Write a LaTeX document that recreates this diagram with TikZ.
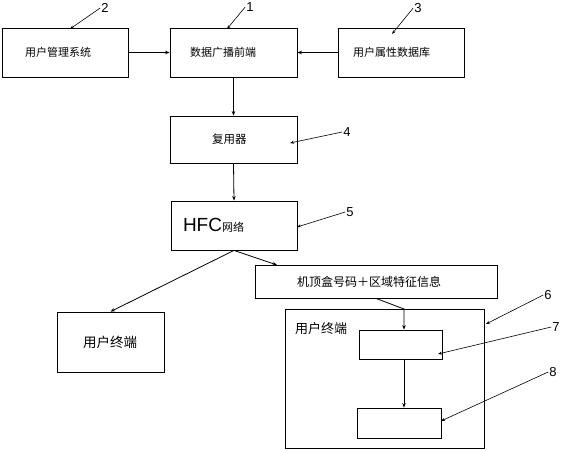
\documentclass[tikz,border=0pt]{standalone}
\usepackage{fontspec}
\setmainfont{Liberation Sans}
\newfontfamily\cjk{Noto Sans CJK SC}
\usetikzlibrary{arrows.meta}
\begin{document}
\begin{tikzpicture}[x=1pt,y=-1pt,
 box/.style={draw, line width=0.8pt, inner ysep=0pt, align=left, font=\cjk\fontsize{11}{13}\selectfont},
 empty/.style={draw, line width=0.8pt, inner sep=0pt},
 arr/.style={line width=0.8pt, -{Stealth[length=4.5pt,width=3.5pt]}},
 lead/.style={line width=0.6pt, -{Stealth[length=4pt,width=3pt]}},
 num/.style={font=\fontsize{13}{15}\selectfont, inner sep=1pt}]
\useasboundingbox (0,0) rectangle (562,450);
\fill[white] (0,0) rectangle (562,450);
% boxes
\node[box, inner xsep=23pt, text width=80pt, minimum height=49pt] (b2) at (65,52.5) {用户管理系统};
\node[box, inner xsep=20pt, text width=87pt, minimum height=49pt] (b1) at (233.5,52.5) {数据广播前端};
\node[box, inner xsep=15pt, text width=96pt, minimum height=49pt] (b3) at (401,52.5) {用户属性数据库};
\node[box, inner xsep=42pt, text width=43pt, minimum height=47pt, font=\cjk\fontsize{11.5}{13}\selectfont] (b4) at (233.5,139.5) {复用器};
\node[box, inner xsep=12pt, text width=102pt, minimum height=49pt] (b5) at (234,225.5) {{\rmfamily\fontsize{19}{20}\selectfont HFC}网络};
\node[box, inner xsep=26pt, text width=55pt, minimum height=60pt, font=\cjk\fontsize{13.5}{15}\selectfont] (lb) at (110.5,342) {用户终端};
\node[box, inner xsep=42pt, text width=158pt, minimum height=33pt, font=\cjk\fontsize{12}{14}\selectfont] (info) at (376,281.5) {机顶盒号码＋区域特征信息};
\node[empty, minimum width=199pt, minimum height=139pt] (b6) at (384.5,378.5) {};
\node[font=\cjk\fontsize{13}{15}\selectfont, anchor=west, inner sep=0pt] (t6) at (295,329) {用户终端};
\node[empty, minimum width=83pt, minimum height=29pt] (b7) at (400.5,344.5) {};
\node[empty, minimum width=84pt, minimum height=30pt] (b8) at (399,423) {};
% connectors
\draw[arr] (b2.east) -- (b1.west);
\draw[arr] (b3.west) -- (b1.east);
\draw[arr] (b1.south) -- (b4.north);
\draw[arr] (b4.south) -- (b5.north);
\draw[arr] (b5.south) -- (lb.north);
\coordinate (infoIn) at (277,265);
\draw[arr] (b5.south) -- (infoIn);
\coordinate (bend) at (404,309);
\draw[arr] (info.south) -- (bend) -- (bend |- b7.north);
\draw[arr] (bend |- b7.south) -- (bend |- b8.north);
% reference numbers
\node[num] (n1) at (250,7) {1};
\node[num] (n2) at (105,8) {2};
\node[num] (n3) at (418,8) {3};
\node[num] (n4) at (347,132) {4};
\node[num] (n5) at (350,212) {5};
\node[num] (n6) at (548,295) {6};
\node[num] (n7) at (556,327) {7};
\node[num] (n8) at (553,372) {8};
\coordinate (a1) at (227,29);
\coordinate (a2) at (70,29);
\coordinate (a3) at (392,34);
\coordinate (a4) at (290,143);
\coordinate (a5) at (297,227);
\coordinate (a6) at (486,324);
\coordinate (a7) at (438,354);
\coordinate (a8) at (441,421);
\foreach \i in {1,...,8} \draw[lead] (n\i.west) -- (a\i);
\end{tikzpicture}
\end{document}
